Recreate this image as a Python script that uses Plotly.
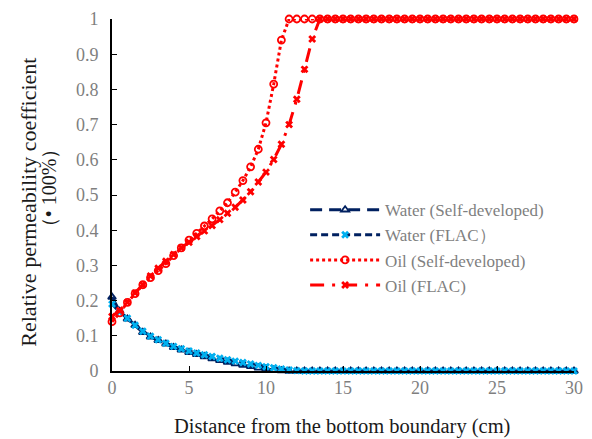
import plotly.graph_objects as go

# Distance from the bottom boundary (cm)
x_cm = [0, 0.5, 1, 1.5, 2, 2.5, 3, 3.5, 4, 4.5, 5, 5.5, 6, 6.5, 7, 7.5, 8, 8.5, 9, 9.5,
        10, 10.5, 11, 11.5, 12, 12.5, 13, 13.5, 14, 14.5, 15, 15.5, 16, 16.5, 17, 17.5,
        18, 18.5, 19, 19.5, 20, 20.5, 21, 21.5, 22, 22.5, 23, 23.5, 24, 24.5, 25, 25.5,
        26, 26.5, 27, 27.5, 28, 28.5, 29, 29.5, 30]

water_self = [0.21, 0.17, 0.148, 0.13, 0.11, 0.097, 0.087, 0.077, 0.067, 0.06, 0.053, 0.047,
              0.041, 0.035, 0.03, 0.025, 0.021, 0.017, 0.013, 0.009, 0.006, 0.003, 0.001, 0,
              0, 0, 0, 0, 0, 0, 0, 0, 0, 0, 0, 0, 0, 0, 0, 0, 0, 0, 0, 0, 0, 0, 0, 0, 0, 0,
              0, 0, 0, 0, 0, 0, 0, 0, 0, 0, 0]

water_flac = [0.19, 0.168, 0.15, 0.13, 0.113, 0.099, 0.089, 0.079, 0.07, 0.063, 0.057, 0.051,
              0.046, 0.041, 0.036, 0.032, 0.028, 0.024, 0.02, 0.016, 0.012, 0.009, 0.006, 0.003,
              0.001, 0, 0, 0, 0, 0, 0, 0, 0, 0, 0, 0, 0, 0, 0, 0, 0, 0, 0, 0, 0, 0, 0, 0, 0, 0,
              0, 0, 0, 0, 0, 0, 0, 0, 0, 0, 0]

oil_self = [0.14, 0.165, 0.195, 0.22, 0.245, 0.265, 0.285, 0.305, 0.328, 0.35, 0.372, 0.391,
            0.412, 0.432, 0.455, 0.478, 0.508, 0.541, 0.58, 0.63, 0.705, 0.815, 0.94, 1, 1, 1,
            1, 1, 1, 1, 1, 1, 1, 1, 1, 1, 1, 1, 1, 1, 1, 1, 1, 1, 1, 1, 1, 1, 1, 1, 1, 1, 1, 1,
            1, 1, 1, 1, 1, 1, 1]

oil_flac = [0.155, 0.172, 0.195, 0.222, 0.245, 0.27, 0.292, 0.312, 0.331, 0.35, 0.366, 0.382,
            0.398, 0.413, 0.43, 0.448, 0.465, 0.486, 0.509, 0.537, 0.565, 0.601, 0.644, 0.70,
            0.772, 0.857, 0.943, 1, 1, 1, 1, 1, 1, 1, 1, 1, 1, 1, 1, 1, 1, 1, 1, 1, 1, 1, 1, 1,
            1, 1, 1, 1, 1, 1, 1, 1, 1, 1, 1, 1, 1]

series_names = ["Water (Self-developed)", "Water (FLAC\uff09", "Oil (Self-developed)", "Oil (FLAC)"]
y_ticks = [0, 0.1, 0.2, 0.3, 0.4, 0.5, 0.6, 0.7, 0.8, 0.9, 1]
y_tick_labels = ["0", "0.1", "0.2", "0.3", "0.4", "0.5", "0.6", "0.7", "0.8", "0.9", "1"]
x_ticks = [0, 5, 10, 15, 20, 25, 30]
x_title = "Distance from the bottom boundary (cm)"
y_title_1 = "Relative permeability coefficient"
y_title_2 = "\uff08\u2022 100%\uff09"

NAVY = "#002060"
LIGHTBLUE = "#00b0f0"
RED = "#ff0000"
FONT = "Liberation Serif, Times New Roman, serif"
GRAY = "#7f7f7f"
DARK = "#1a1a1a"

fig = go.Figure()
fig.add_trace(go.Scatter(
    x=x_cm, y=water_self, name=series_names[0], mode="lines+markers", cliponaxis=False,
    line=dict(color=NAVY, width=3, dash="12px,7px"),
    marker=dict(symbol="triangle-up-open", size=7, color=NAVY, line=dict(width=1.8, color=NAVY)),
))
fig.add_trace(go.Scatter(
    x=x_cm, y=water_flac, name=series_names[1], mode="lines+markers", cliponaxis=False,
    line=dict(color=NAVY, width=3, dash="7px,4px"),
    marker=dict(symbol="x", size=7, color=LIGHTBLUE, line=dict(width=0)),
))
fig.add_trace(go.Scatter(
    x=x_cm, y=oil_self, name=series_names[2], mode="lines+markers", cliponaxis=False,
    line=dict(color=RED, width=3, dash="3px,3px"),
    marker=dict(symbol="circle-open", size=7, color=RED, line=dict(width=1.8, color=RED)),
))
fig.add_trace(go.Scatter(
    x=x_cm, y=oil_flac, name=series_names[3], mode="lines+markers", cliponaxis=False,
    line=dict(color=RED, width=3, dash="14px,8px,3px,8px"),
    marker=dict(symbol="x", size=7, color=RED, line=dict(width=0)),
))

fig.update_layout(
    width=592, height=439,
    margin=dict(l=112, r=9, t=19, b=68),
    paper_bgcolor="white", plot_bgcolor="white",
    font=dict(family=FONT, size=17, color=GRAY),
    showlegend=True,
    legend=dict(
        x=0.418, y=0.508, xanchor="left", yanchor="top",
        bgcolor="rgba(0,0,0,0)", font=dict(family=FONT, size=17, color=GRAY),
        itemwidth=70, tracegroupgap=0,
    ),
    xaxis=dict(
        range=[0, 30], tickvals=x_ticks, showgrid=False, zeroline=False,
        showline=True, linecolor="#000000", linewidth=1.5,
        ticks="inside", ticklen=5, tickcolor="#000000", tickwidth=1,
        tickfont=dict(family=FONT, size=18, color=GRAY),
    ),
    yaxis=dict(
        range=[0, 1], tickvals=y_ticks, ticktext=y_tick_labels, showgrid=False, zeroline=False,
        showline=True, linecolor="#000000", linewidth=2,
        ticks="inside", ticklen=5, tickcolor="#000000", tickwidth=1,
        tickfont=dict(family=FONT, size=18, color=GRAY),
        ticklabelstandoff=8,
    ),
    annotations=[
        dict(text=x_title, xref="paper", yref="paper", x=0.498, y=-0.159,
             xanchor="center", yanchor="middle", showarrow=False,
             font=dict(family=FONT, size=20.5, color=DARK)),
        dict(text=y_title_1, xref="paper", yref="paper", x=-0.1826, y=0.48,
             xanchor="center", yanchor="middle", showarrow=False, textangle=-90,
             font=dict(family=FONT, size=22, color=DARK)),
        dict(text=y_title_2, xref="paper", yref="paper", x=-0.1359, y=0.52,
             xanchor="center", yanchor="middle", showarrow=False, textangle=-90,
             font=dict(family=FONT, size=20, color=DARK)),
    ],
)

fig.write_html("out.html")
